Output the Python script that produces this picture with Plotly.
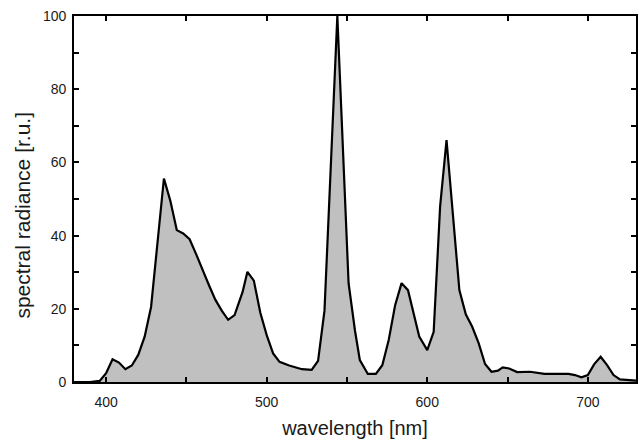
import plotly.graph_objects as go

wavelength = [380, 390, 396, 400, 404, 408, 412, 416, 420, 424,
              428, 436, 440, 444, 448, 452, 456, 460, 464, 468,
              472, 476, 480, 485, 488, 492, 496, 500, 504, 508,
              514, 522, 528, 532, 536, 544, 551, 555, 558, 563,
              568, 572, 576, 580, 584, 588, 591, 595, 600, 604,
              608, 612, 620, 624, 628, 632, 636, 640, 644, 647,
              651, 656, 664, 673, 688, 692, 696, 700, 704, 708,
              712, 716, 720, 730]
radiance = [0, 0, 0.3, 2.4, 6.2, 5.3, 3.5, 4.5, 7.4, 12.4,
            20.5, 55.6, 49.5, 41.5, 40.6, 39, 35, 31, 26.5, 22.5,
            19.5, 17, 18.3, 24.6, 30.1, 27.7, 19, 12.8, 7.8, 5.5,
            4.5, 3.5, 3.3, 5.8, 19.5, 100, 27, 14, 6, 2.2,
            2.2, 4.6, 11.5, 21, 27, 25.1, 19.7, 12.4, 8.7, 13.7,
            47.9, 66.1, 25.1, 18.5, 15.1, 10.6, 4.9, 2.8, 3.1, 4.0,
            3.7, 2.7, 2.8, 2.2, 2.2, 1.9, 1.3, 1.9, 4.9, 6.9,
            4.6, 1.9, 0.7, 0.35]

x_ticks = [400, 500, 600, 700]
y_ticks = [0, 20, 40, 60, 80, 100]

fig = go.Figure()
fig.add_trace(go.Scatter(
    x=wavelength, y=radiance, mode="lines",
    fill="tozeroy", fillcolor="#c0c0c0",
    line=dict(color="black", width=2.2),
    showlegend=False, hoverinfo="skip",
))

font = "Liberation Sans, Arial, Helvetica, sans-serif"
txt = "#1a1a1a"
fig.update_layout(
    width=641, height=442,
    margin=dict(l=74, r=5, t=16, b=60),
    paper_bgcolor="white", plot_bgcolor="white",
    font=dict(family=font, color=txt),
)
fig.update_xaxes(
    range=[380, 730], tickvals=x_ticks, ticktext=[str(v) for v in x_ticks],
    ticks="inside", ticklen=5, tickwidth=1.5, tickcolor="black",
    minor=dict(dtick=50, tick0=0, ticks="inside", ticklen=5, tickwidth=1.5, tickcolor="black", showgrid=False),
    showline=True, linecolor="black", linewidth=1.8, mirror="ticks",
    showgrid=False, zeroline=False, automargin=False,
    ticklabelstandoff=6,
    tickfont=dict(size=14, family=font, color=txt),
    title=dict(text="wavelength [nm]", font=dict(size=20, family=font, color=txt), standoff=12),
)
fig.update_yaxes(
    range=[0, 100], tickvals=y_ticks, ticktext=[str(v) for v in y_ticks],
    ticks="inside", ticklen=5, tickwidth=1.5, tickcolor="black",
    minor=dict(dtick=10, tick0=0, ticks="inside", ticklen=5, tickwidth=1.5, tickcolor="black", showgrid=False),
    showline=True, linecolor="black", linewidth=1.8, mirror="ticks",
    showgrid=False, zeroline=False, automargin=False,
    ticklabelstandoff=3,
    tickfont=dict(size=14, family=font, color=txt),
)
fig.add_annotation(
    text="spectral radiance [r.u.]", textangle=-90,
    xref="paper", yref="paper", x=-0.0916, y=0.456,
    xanchor="center", yanchor="middle", showarrow=False,
    font=dict(size=21, family=font, color=txt),
)

fig.write_html("out.html", config={"displayModeBar": False},
               post_script="document.body.style.margin='0';document.body.style.overflow='hidden';")
